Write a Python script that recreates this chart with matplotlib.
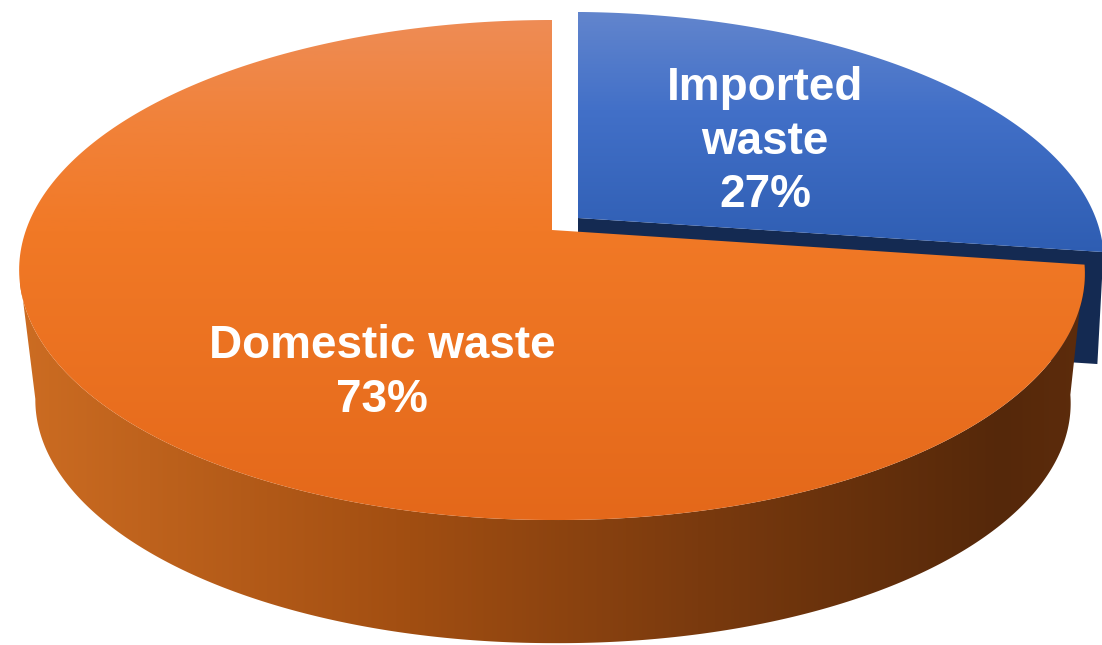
import numpy as np
import matplotlib
matplotlib.use("Agg")
import matplotlib.pyplot as plt
from matplotlib.path import Path
from matplotlib.patches import PathPatch
from matplotlib.colors import LinearSegmentedColormap

categories = ["Imported waste", "Domestic waste"]
shares = [27, 73]
label_texts = ["Imported\nwaste\n27%", "Domestic waste\n73%"]

W, H = 1102, 645
PERSP = 0.16
SAG = 3.5
SILHOUETTE = 261


def rim(cx, cy, a, b, t0, t1, n=300):
    """Projected circle arc; angle clockwise from 12 o'clock."""
    t = np.radians(np.linspace(t0, t1, n))
    u, v = np.sin(t), -np.cos(t)
    d = 1 - PERSP * v
    return np.column_stack([cx + a * u / d, cy + b * v / d + SAG * np.maximum(u, 0)])


def gradient(ax, stops, extent, clip, horizontal=False, zorder=1):
    positions = [(p - stops[0][0]) / (stops[-1][0] - stops[0][0]) for p, _ in stops]
    cmap = LinearSegmentedColormap.from_list("g", list(zip(positions, [c for _, c in stops])))
    ramp = np.linspace(0, 1, 512)
    data = ramp[None, :] if horizontal else ramp[:, None]
    x0, x1, y0, y1 = extent
    im = ax.imshow(data, cmap=cmap, extent=(x0, x1, y1, y0), aspect="auto",
                   interpolation="bilinear", zorder=zorder)
    patch = PathPatch(clip, transform=ax.transData, fc="none", ec="none")
    ax.add_patch(patch)
    im.set_clip_path(patch)


def polygon(points):
    return Path(np.vstack([points, points[:1]]), closed=True)


fig = plt.figure(figsize=(W / 100, H / 100), dpi=100, facecolor="white")
ax = fig.add_axes([0, 0, 1, 1])

split = 360 * shares[0] / sum(shares)

# exploded slice geometry (first category)
blue_top = (578, 218, 519, 239)
blue_low = (578, 330, 513, 239)
# main slice geometry (second category)
or_top = (552, 230, 526, 243.6)
or_low = (553, 361, 511, 237)

# dark cut wall of the exploded slice
corner_t = rim(*blue_top, split, split, 1)
corner_b = rim(*blue_low, split, split, 1)
wall = np.array([blue_top[:2], corner_t[0], corner_b[0], blue_low[:2]], dtype=float)
ax.fill(wall[:, 0], wall[:, 1], color="#142A52", lw=0, zorder=1)

# exploded slice top
arc = rim(*blue_top, 0, split)
gradient(ax, [(12, "#6285CD"), (110, "#4270C8"), (255, "#2E5DB2")], (500, W, 12, 255),
         polygon(np.vstack([[blue_top[:2]], arc])), zorder=2)

# main slice side wall
top_edge = rim(*or_top, split, SILHOUETTE)
low_edge = rim(*or_low, split, SILHOUETTE)
gradient(ax, [(30, "#CC6C22"), (400, "#A34F12"), (700, "#7A3A0E"), (1000, "#55280A"), (1085, "#5E2C0C")],
         (20, 1090, 250, 650), polygon(np.vstack([top_edge, low_edge[::-1]])),
         horizontal=True, zorder=3)

# main slice top
arc = rim(*or_top, split, 360)
gradient(ax, [(20, "#EE8C55"), (120, "#F1823A"), (230, "#F17926"), (520, "#E4681A")], (0, W, 20, 522),
         polygon(np.vstack([[or_top[:2]], arc])), zorder=4)

ax.set_xlim(0, W)
ax.set_ylim(H, 0)
ax.axis("off")

font = dict(family="Liberation Sans", weight="bold", color="white", fontsize=33,
            ha="center", va="center", linespacing=1.29, zorder=6)
ax.text(765, 141.5, label_texts[0], **font)
ax.text(382, 373, label_texts[1], **font)

fig.savefig("out.png", dpi=100)
